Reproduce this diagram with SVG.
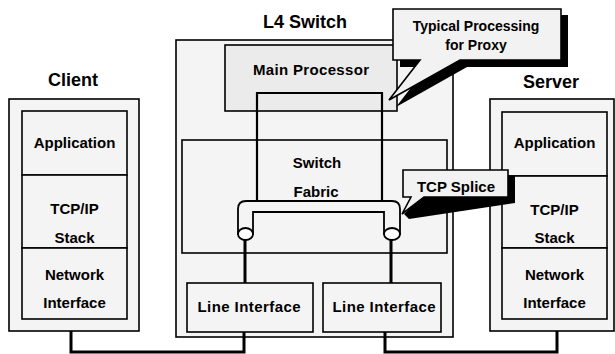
<svg xmlns="http://www.w3.org/2000/svg" width="615" height="354" viewBox="0 0 615 354">
<style>
text{font-family:"Liberation Sans",Arial,Helvetica,sans-serif;font-weight:bold;fill:#000;text-anchor:middle}
.t{font-size:18px}
.l{font-size:15px}
.box{fill:#f4f4f4;stroke:#000;stroke-width:1.6}
.mp{fill:#ebebeb;stroke:#000;stroke-width:1.6}
.loop{fill:none;stroke:#000;stroke-width:2.2}
.conn{fill:none;stroke:#000;stroke-width:3}
.shadow{fill:#000}
.call{fill:#f2f2f2;stroke:#000;stroke-width:1.6;stroke-linejoin:miter}
</style>
<rect width="615" height="354" fill="#fff"/>

<g id="client">
<text class="t" x="73" y="86">Client</text>
<rect class="box" x="9" y="99" width="130" height="232"/>
<rect class="box" x="22" y="111" width="105" height="64"/>
<rect class="box" x="22" y="175" width="105" height="73"/>
<rect class="box" x="22" y="248" width="105" height="71"/>
<text class="l" x="74.5" y="148">Application</text>
<text class="l" x="74.5" y="214">TCP/IP</text>
<text class="l" x="74.5" y="243">Stack</text>
<text class="l" x="74.5" y="280">Network</text>
<text class="l" x="74.5" y="308">Interface</text>
</g>

<g id="l4switch">
<text class="t" x="305" y="28">L4 Switch</text>
<rect class="box" x="176" y="40" width="277" height="297"/>
</g>

<g id="main-processor">
<rect class="mp" x="225" y="45" width="172" height="66"/>
<text class="l" x="311" y="75" textLength="116">Main Processor</text>
</g>

<g id="switch-fabric">
<rect class="box" x="182" y="140" width="265" height="113"/>
<text class="l" x="317" y="168">Switch</text>
<text class="l" x="316" y="197">Fabric</text>
</g>

<g id="proxy-path">
<path class="loop" d="M257,201 V93 H382 V201"/>
</g>

<g id="tcp-splice-pipe">
<path d="M238,234 V209 Q238,201 246,201 H392 Q400,201 400,209 V234 H384 V212 H253 V234 Z" fill="#f4f4f4" stroke="#000" stroke-width="1.8"/>
<ellipse cx="245.5" cy="234" rx="7.5" ry="6" fill="#fff" stroke="#000" stroke-width="1.8"/>
<ellipse cx="392" cy="234" rx="8" ry="6" fill="#fff" stroke="#000" stroke-width="1.8"/>
</g>

<g id="line-interface-1">
<rect class="box" x="187" y="283" width="126" height="49"/>
<text class="l" x="249" y="312" textLength="103">Line Interface</text>
</g>

<g id="line-interface-2">
<rect class="box" x="323" y="283" width="118" height="49"/>
<text class="l" x="384" y="312" textLength="103">Line Interface</text>
</g>

<g id="server">
<text class="t" x="551" y="88">Server</text>
<rect class="box" x="490" y="99" width="124" height="232"/>
<rect class="box" x="502" y="112" width="105" height="64"/>
<rect class="box" x="502" y="176" width="105" height="72"/>
<rect class="box" x="502" y="248" width="105" height="71"/>
<text class="l" x="554.5" y="148">Application</text>
<text class="l" x="554.5" y="215">TCP/IP</text>
<text class="l" x="554.5" y="243">Stack</text>
<text class="l" x="554.5" y="280">Network</text>
<text class="l" x="554.5" y="308">Interface</text>
</g>

<g id="connectors">
<path class="conn" d="M245,240 V283"/>
<path class="conn" d="M391,240 V283"/>
<path class="conn" d="M71,331 V352 H244 V332"/>
<path class="conn" d="M385,332 V352 H557 V331"/>
</g>

<g id="callout-proxy">
<path class="shadow" d="M400,15 H568 V67 H467 L396,107 L427,67 H400 Z"/>
<path class="call" d="M393,9 H561 V60 H460 L389,100 L420,60 H393 Z"/>
<text x="476" y="31" font-size="14">Typical Processing</text>
<text x="476" y="50" font-size="14">for Proxy</text>
</g>

<g id="callout-splice">
<path class="shadow" d="M410,176 H515 V203 L409,219 L404,214 L422,197 Z"/>
<path class="call" d="M403,170 H508 V197 H424 L402,214 L411,197 H403 Z"/>
<text x="456" y="192" font-size="15">TCP Splice</text>
</g>
</svg>
